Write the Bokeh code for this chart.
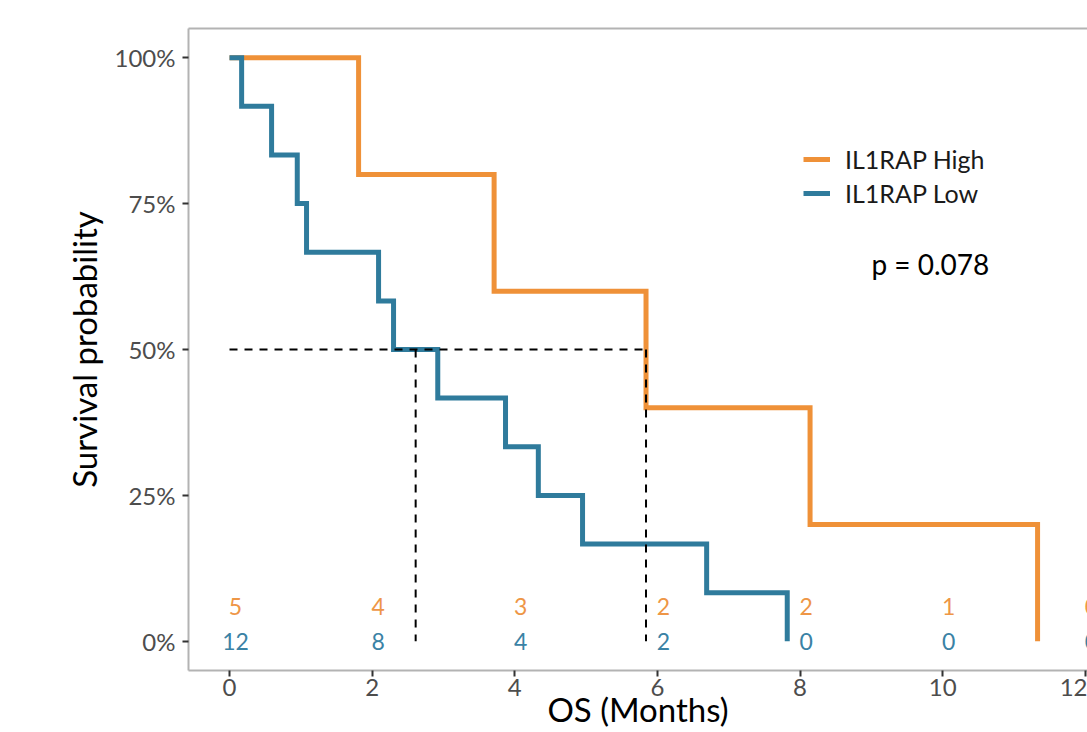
from bokeh.plotting import figure
from bokeh.models import (Range1d, LinearAxis, FixedTicker, NumeralTickFormatter,
                          Legend, LegendItem, Label)
from bokeh.core.properties import value
from bokeh.embed import file_html
from bokeh.resources import INLINE

# ---- data ----
high_times = [0.0, 1.81, 3.71, 5.84, 8.14, 11.33]
high_surv = [1.0, 0.80, 0.60, 0.40, 0.20, 0.0]

low_times = [0.0, 0.17, 0.59, 0.95, 1.08, 2.09, 2.30, 2.92, 3.87, 4.33, 4.95, 6.69, 7.82]
low_surv = [1.0, 0.9167, 0.8333, 0.75, 0.6667, 0.5833, 0.50, 0.4167, 0.3333, 0.25, 0.1667, 0.0833, 0.0]

risk_times = [0, 2, 4, 6, 8, 10, 12]
risk_high = [5, 4, 3, 2, 2, 1, 0]
risk_low = [12, 8, 4, 2, 0, 0, 0]

median_low = 2.61
median_high = 5.84

x_ticks = [0, 2, 4, 6, 8, 10, 12]
y_ticks = [0.0, 0.25, 0.50, 0.75, 1.0]

group_labels = ["IL1RAP High", "IL1RAP Low"]
p_text = "p = 0.078"
x_title = "OS (Months)"
y_title = "Survival probability"

# ---- styles ----
ORANGE = "#EF9138"
BLUE = "#2F7B9C"
ORANGE_TXT = "#EE9646"
BLUE_TXT = "#3A82A5"
FONT = "Lato"
TICK_GREY = "#4D4D4D"
FRAME_GREY = "#B3B3B3"

p = figure(width=1087, height=732,
           x_range=Range1d(-0.575, 12.03), y_range=Range1d(-0.05, 1.05),
           output_backend="svg", toolbar_location=None,
           min_border_left=188, min_border_top=28, min_border_bottom=62,
           min_border_right=0)
p.outline_line_color = None
p.grid.visible = False
p.background_fill_color = "white"
p.border_fill_color = "white"

# axes
for ax in (p.xaxis[0], p.yaxis[0]):
    ax.axis_line_color = FRAME_GREY
    ax.axis_line_width = 2
    ax.major_tick_line_color = "#333333"
    ax.major_tick_line_width = 2
    ax.major_tick_out = 6
    ax.major_tick_in = 0
    ax.minor_tick_line_color = None
    ax.major_label_text_font = FONT
    ax.major_label_text_font_size = "24px"
    ax.major_label_text_color = TICK_GREY

p.xaxis.ticker = FixedTicker(ticks=x_ticks)
p.xaxis.major_label_standoff = 2
p.xaxis.axis_label = x_title
p.xaxis.axis_label_text_font = FONT
p.xaxis.axis_label_text_font_size = "33px"
p.xaxis.axis_label_text_font_style = "normal"
p.xaxis.axis_label_text_color = "black"
p.xaxis.axis_label_standoff = -10

p.yaxis.ticker = FixedTicker(ticks=y_ticks)
p.yaxis.formatter = NumeralTickFormatter(format="0%")
p.yaxis.major_label_standoff = 7
p.yaxis.axis_label = y_title
p.yaxis.axis_label_text_font = FONT
p.yaxis.axis_label_text_font_size = "33px"
p.yaxis.axis_label_text_font_style = "normal"
p.yaxis.axis_label_text_color = "black"
p.yaxis.axis_label_standoff = 8

top_axis = LinearAxis(ticker=FixedTicker(ticks=[]), axis_line_color=FRAME_GREY,
                      axis_line_width=2, major_tick_line_color=None,
                      minor_tick_line_color=None)
p.add_layout(top_axis, "above")

# curves
r_high = p.step(high_times, high_surv, mode="after", line_color=ORANGE,
                line_width=5, line_join="miter")
r_low = p.step(low_times, low_surv, mode="after", line_color=BLUE,
               line_width=5, line_join="miter")

# median lines
p.line([0, median_high], [0.5, 0.5], line_color="black", line_width=2,
       line_dash="8 7")
p.segment(x0=[median_low, median_high], y0=[0.5, 0.5],
          x1=[median_low, median_high], y1=[0, 0],
          line_color="black", line_width=2, line_dash="8 7")

# numbers at risk
p.text(x=risk_times, y=[0.06] * len(risk_times), text=[str(v) for v in risk_high],
       text_color=ORANGE_TXT, text_font=value(FONT), text_font_size="23px",
       text_align="center", text_baseline="middle", x_offset=6)
p.text(x=risk_times, y=[0.0] * len(risk_times), text=[str(v) for v in risk_low],
       text_color=BLUE_TXT, text_font=value(FONT), text_font_size="23px",
       text_align="center", text_baseline="middle", x_offset=6)

# legend
legend = Legend(items=[LegendItem(label=group_labels[0], renderers=[r_high]),
                       LegendItem(label=group_labels[1], renderers=[r_low])],
                location=(615, 460), orientation="vertical",
                glyph_width=27, glyph_height=34, label_height=34,
                spacing=0, padding=0, margin=0, label_standoff=15,
                border_line_color=None, background_fill_alpha=0,
                label_text_font=FONT, label_text_font_size="25px",
                label_text_color="#1A1A1A")
p.add_layout(legend)

# p-value
p.add_layout(Label(x=9.0, y=0.647, text=p_text, text_font=FONT,
                   text_font_size="28px", text_color="black",
                   text_baseline="middle", text_align="left"))

open("out.html", "w").write(file_html(p, INLINE))
